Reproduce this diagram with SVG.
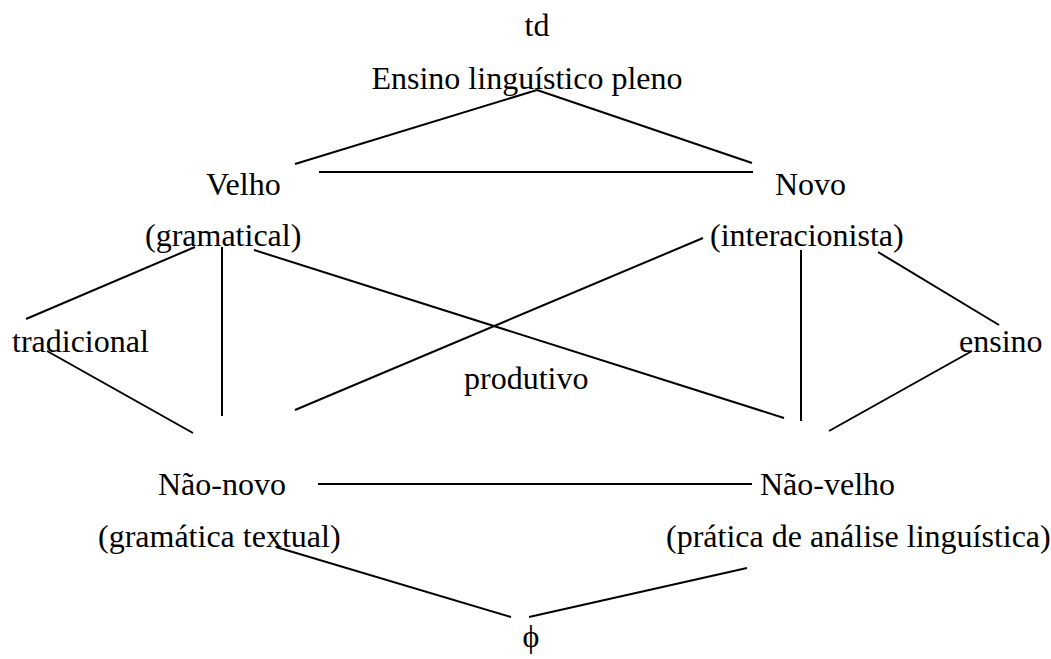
<svg xmlns="http://www.w3.org/2000/svg" width="1051" height="659" viewBox="0 0 1051 659">
<style>
text{font-family:"Liberation Serif","Times New Roman",serif;font-size:32px;fill:#000}
.c line{stroke:#000;stroke-width:2;fill:none}
</style>
<rect width="1051" height="659" fill="#fff"/>
<g id="connectors" class="c">
<line x1="537" y1="90" x2="295" y2="164"/>
<line x1="537" y1="90" x2="752" y2="163"/>
<line x1="319" y1="172" x2="753" y2="172"/>
<line x1="195" y1="247" x2="26" y2="319"/>
<line x1="222" y1="247" x2="222" y2="416"/>
<line x1="254" y1="250" x2="784" y2="418"/>
<line x1="703" y1="238" x2="295" y2="410"/>
<line x1="801" y1="250" x2="801" y2="421"/>
<line x1="878" y1="252" x2="999" y2="325"/>
<line x1="47" y1="351" x2="193" y2="433"/>
<line x1="972" y1="351" x2="829" y2="431"/>
<line x1="318" y1="484" x2="752" y2="484"/>
<line x1="276" y1="547" x2="511" y2="617"/>
<line x1="747" y1="568" x2="529" y2="617"/>
</g>
<g id="td"><text x="537" y="36" text-anchor="middle">td</text></g>
<g id="pleno"><text x="527" y="89" text-anchor="middle">Ensino linguístico pleno</text></g>
<g id="velho"><text x="206" y="195">Velho</text><text x="145" y="246">(gramatical)</text></g>
<g id="novo"><text x="775" y="195">Novo</text><text x="710" y="246">(interacionista)</text></g>
<g id="tradicional"><text x="12" y="352">tradicional</text></g>
<g id="produtivo"><text x="464" y="389">produtivo</text></g>
<g id="ensino"><text x="959" y="352">ensino</text></g>
<g id="naonovo"><text x="158" y="495">Não-novo</text><text x="98" y="547">(gramática textual)</text></g>
<g id="naovelho"><text x="760" y="495">Não-velho</text><text x="666" y="547">(prática de análise linguística)</text></g>
<g id="phi"><text x="531" y="647" text-anchor="middle">ϕ</text></g>
</svg>
